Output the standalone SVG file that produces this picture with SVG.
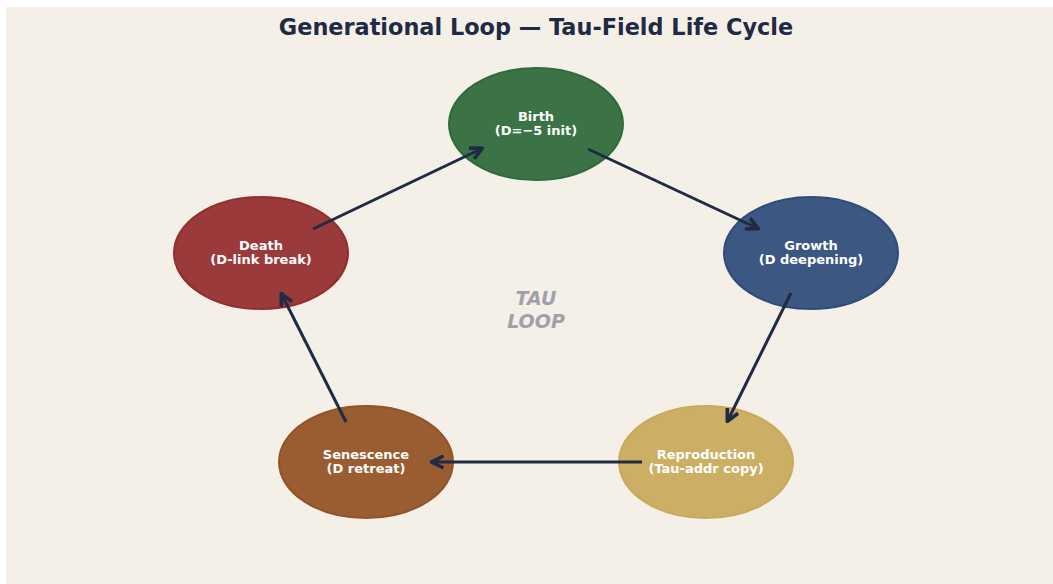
<svg xmlns="http://www.w3.org/2000/svg" width="1053" height="584" viewBox="0 0 1053 584">
<defs>
<style>
.node{stroke-width:2}
.lbl{font-family:"DejaVu Sans",Verdana,sans-serif;font-weight:bold;font-size:13px;fill:#ffffff;text-anchor:middle}
.edge{stroke:#1f2a44;stroke-width:3;fill:none;marker-end:url(#ah)}
</style>
<marker id="ah" viewBox="0 0 10 10" refX="8" refY="5" markerWidth="5" markerHeight="5" orient="auto" markerUnits="strokeWidth">
<path d="M1,1 L9,5 L1,9" fill="none" stroke="#1f2a44" stroke-width="2.4" stroke-linejoin="miter"/>
</marker>
</defs>
<rect x="0" y="0" width="1053" height="584" fill="#ffffff"/>
<rect x="6" y="7" width="1047" height="577" fill="#f4f0e8"/>
<text x="536" y="35" font-family="'DejaVu Sans',Verdana,sans-serif" font-weight="bold" font-size="22.4" fill="#1f2a44" text-anchor="middle">Generational Loop — Tau-Field Life Cycle</text>
<g id="birth">
<ellipse class="node" cx="536" cy="124" rx="87" ry="56" fill="#3b7346" stroke="#2f6b3a"/>
<text class="lbl" x="536" y="121">Birth</text>
<text class="lbl" x="536" y="135">(D=−5 init)</text>
</g>
<g id="growth">
<ellipse class="node" cx="811" cy="253" rx="87" ry="56" fill="#3c5781" stroke="#304d7a"/>
<text class="lbl" x="811" y="250">Growth</text>
<text class="lbl" x="811" y="264">(D deepening)</text>
</g>
<g id="reproduction">
<ellipse class="node" cx="706" cy="462" rx="87" ry="56" fill="#ccaf64" stroke="#c9a95a"/>
<text class="lbl" x="706" y="459">Reproduction</text>
<text class="lbl" x="706" y="473">(Tau-addr copy)</text>
</g>
<g id="senescence">
<ellipse class="node" cx="366" cy="462" rx="87" ry="56" fill="#9a5c31" stroke="#92532a"/>
<text class="lbl" x="366" y="459">Senescence</text>
<text class="lbl" x="366" y="473">(D retreat)</text>
</g>
<g id="death">
<ellipse class="node" cx="261" cy="253" rx="87" ry="56" fill="#9b3a3a" stroke="#922e2e"/>
<text class="lbl" x="261" y="250">Death</text>
<text class="lbl" x="261" y="264">(D-link break)</text>
</g>
<g id="connectors">
<line class="edge" x1="588" y1="149" x2="757" y2="228"/>
<line class="edge" x1="791" y1="293" x2="728" y2="420"/>
<line class="edge" x1="642" y1="462" x2="433" y2="462"/>
<line class="edge" x1="346" y1="422" x2="282" y2="295"/>
<line class="edge" x1="313" y1="229" x2="481" y2="149"/>
</g>
<g id="center-label" font-family="'DejaVu Sans',Verdana,sans-serif" font-weight="bold" font-style="italic" font-size="19" fill="#a0a1a8" text-anchor="middle">
<text x="536" y="305">TAU</text>
<text x="536" y="328">LOOP</text>
</g>
</svg>
